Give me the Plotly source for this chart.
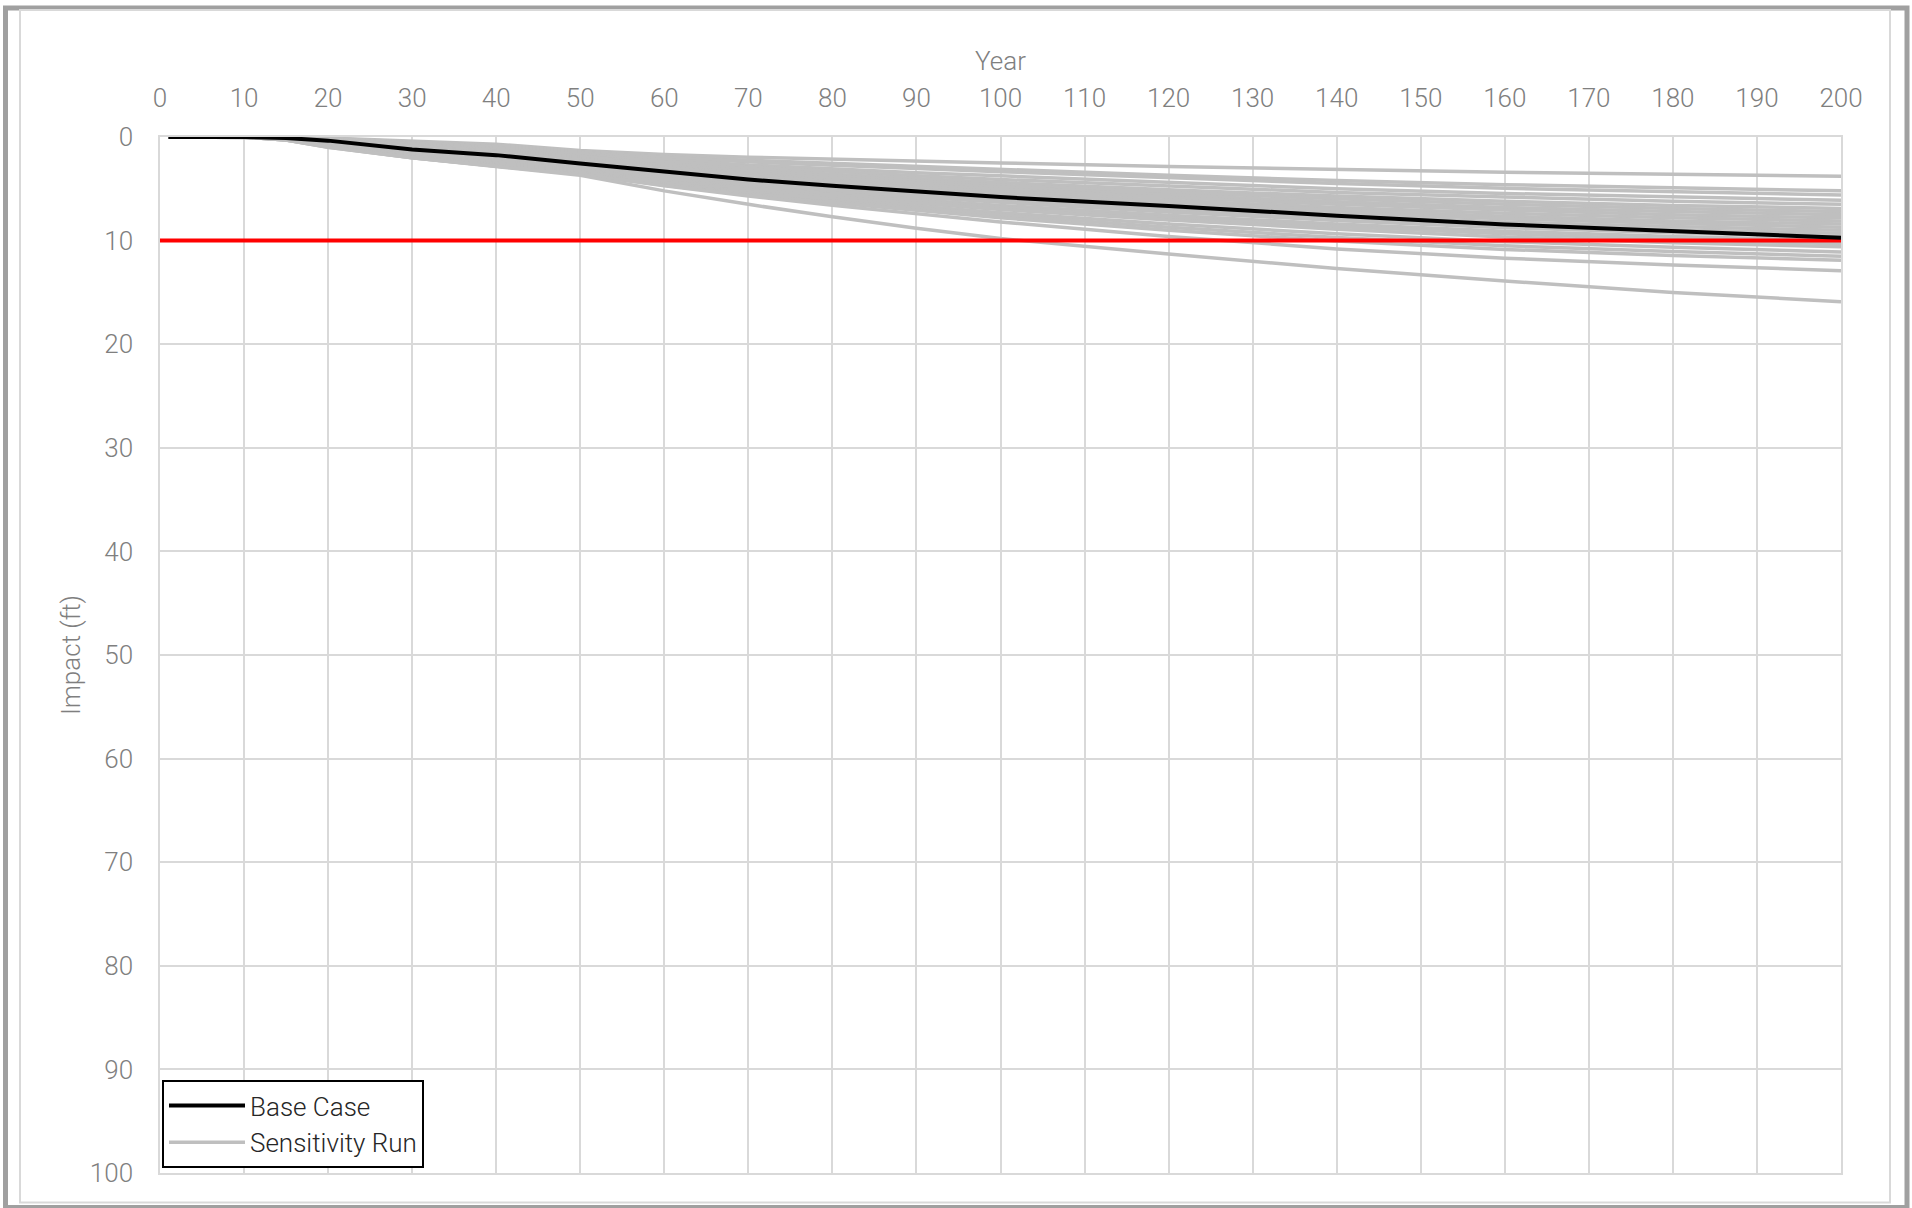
import plotly.graph_objects as go

# ---- data ----
years = [1, 10, 15, 20, 30, 40, 50, 60, 70, 80, 90, 100, 120, 140, 160, 180, 200]

base_case = [0, 0, 0.1, 0.35, 1.2, 1.75, 2.55, 3.35, 4.1, 4.7, 5.25, 5.8, 6.65, 7.6, 8.45, 9.1, 9.72]

sens_01 = [0, 0, 0.05, 0.1, 0.4, 0.7, 1.3, 1.7, 1.95, 2.15, 2.35, 2.5, 2.85, 3.15, 3.4, 3.6, 3.8]
sens_02 = [0, 0, 0.05, 0.15, 0.5, 0.8, 1.4, 1.9, 2.25, 2.55, 2.85, 3.1, 3.7, 4.2, 4.6, 4.9, 5.2]
sens_03 = [0, 0, 0.05, 0.15, 0.55, 0.9, 1.5, 2.0, 2.4, 2.75, 3.05, 3.35, 3.95, 4.5, 4.95, 5.3, 5.6]
sens_04 = [0, 0, 0.05, 0.2, 0.6, 1.0, 1.6, 2.2, 2.7, 3.1, 3.45, 3.75, 4.4, 5.0, 5.45, 5.8, 6.1]
sens_05 = [0, 0, 0.1, 0.2, 0.7, 1.1, 1.7, 2.4, 2.9, 3.35, 3.75, 4.1, 4.75, 5.35, 5.8, 6.2, 6.5]
sens_06 = [0, 0, 0.1, 0.25, 0.8, 1.2, 1.85, 2.6, 3.1, 3.6, 4.0, 4.4, 5.1, 5.7, 6.2, 6.6, 6.9]
sens_07 = [0, 0, 0.1, 0.3, 0.85, 1.3, 2.0, 2.75, 3.3, 3.8, 4.25, 4.65, 5.35, 5.95, 6.5, 6.9, 7.2]
sens_08 = [0, 0, 0.1, 0.3, 0.9, 1.4, 2.1, 2.9, 3.5, 4.0, 4.45, 4.85, 5.6, 6.25, 6.8, 7.2, 7.5]
sens_09 = [0, 0, 0.1, 0.35, 1.0, 1.5, 2.2, 3.0, 3.65, 4.2, 4.65, 5.05, 5.85, 6.5, 7.05, 7.5, 7.8]
sens_10 = [0, 0, 0.1, 0.4, 1.1, 1.6, 2.35, 3.15, 3.8, 4.35, 4.85, 5.3, 6.1, 6.8, 7.35, 7.8, 8.1]
sens_11 = [0, 0, 0.15, 0.45, 1.2, 1.75, 2.5, 3.3, 3.95, 4.55, 5.05, 5.5, 6.3, 7.05, 7.65, 8.1, 8.4]
sens_12 = [0, 0, 0.15, 0.5, 1.3, 1.85, 2.6, 3.45, 4.1, 4.7, 5.25, 5.7, 6.55, 7.3, 7.9, 8.35, 8.7]
sens_13 = [0, 0, 0.15, 0.55, 1.35, 1.95, 2.7, 3.55, 4.25, 4.85, 5.4, 5.9, 6.8, 7.55, 8.2, 8.65, 9.0]
sens_14 = [0, 0, 0.2, 0.6, 1.45, 2.05, 2.85, 3.7, 4.4, 5.05, 5.6, 6.1, 7.0, 7.8, 8.45, 8.95, 9.3]
sens_15 = [0, 0, 0.2, 0.65, 1.5, 2.15, 2.95, 3.85, 4.6, 5.2, 5.8, 6.3, 7.25, 8.05, 8.75, 9.25, 9.6]
sens_16 = [0, 0, 0.2, 0.7, 1.6, 2.3, 3.1, 4.0, 4.8, 5.45, 6.05, 6.6, 7.55, 8.4, 9.1, 9.6, 10.0]
sens_17 = [0, 0, 0.2, 0.75, 1.7, 2.4, 3.2, 4.15, 4.95, 5.6, 6.2, 6.8, 7.8, 8.65, 9.35, 9.9, 10.3]
sens_18 = [0, 0, 0.25, 0.8, 1.75, 2.5, 3.3, 4.3, 5.1, 5.8, 6.4, 7.0, 8.0, 8.9, 9.65, 10.2, 10.6]
sens_19 = [0, 0, 0.25, 0.85, 1.85, 2.6, 3.4, 4.45, 5.3, 6.0, 6.65, 7.3, 8.4, 9.35, 10.1, 10.65, 11.1]
sens_20 = [0, 0, 0.3, 0.9, 1.9, 2.7, 3.5, 4.55, 5.45, 6.2, 6.9, 7.55, 8.7, 9.7, 10.5, 11.05, 11.5]
sens_21 = [0, 0, 0.3, 0.95, 2.0, 2.8, 3.6, 4.65, 5.6, 6.35, 7.1, 7.8, 9.0, 10.05, 10.85, 11.45, 11.9]
sens_22 = [0, 0, 0.3, 1.0, 2.0, 2.8, 3.6, 4.7, 5.7, 6.6, 7.4, 8.2, 9.6, 10.8, 11.7, 12.35, 12.9]
sens_23 = [0, 0, 0.3, 1.0, 2.0, 2.85, 3.7, 5.2, 6.5, 7.7, 8.8, 9.8, 11.3, 12.7, 13.9, 15.0, 15.9]

sensitivity_runs = [sens_01, sens_02, sens_03, sens_04, sens_05, sens_06, sens_07, sens_08,
                    sens_09, sens_10, sens_11, sens_12, sens_13, sens_14, sens_15, sens_16,
                    sens_17, sens_18, sens_19, sens_20, sens_21, sens_22, sens_23]

threshold_years = [0, 200]
threshold_impact = [10, 10]

x_ticks = list(range(0, 201, 10))
y_ticks = list(range(0, 101, 10))

# ---- figure ----
W, H = 1912, 1208
ML, MR, MT, MB = 160, 71, 137, 35
PW, PH = W - ML - MR, H - MT - MB

def px(x):
    return (x - ML) / PW

def py(y):
    return (H - MB - y) / PH

FONT = "Roboto, sans-serif"
GRAY_TXT = "#7f7f7f"
GRID = "#d9d9d9"

fig = go.Figure()

for i, run in enumerate(sensitivity_runs):
    fig.add_trace(go.Scatter(
        x=years, y=run, mode="lines",
        line=dict(color="#bfbfbf", width=3.5),
        name="Sensitivity Run", legendgroup="sens",
        showlegend=(i == 0), legendrank=2, hoverinfo="skip"))

fig.add_trace(go.Scatter(
    x=threshold_years, y=threshold_impact, mode="lines",
    line=dict(color="#ff0000", width=4), showlegend=False, hoverinfo="skip"))

fig.add_trace(go.Scatter(
    x=years, y=base_case, mode="lines",
    line=dict(color="#000000", width=4),
    name="Base Case", legendrank=1))

fig.update_layout(
    width=W, height=H,
    margin=dict(l=ML, r=MR, t=MT, b=MB, autoexpand=False),
    paper_bgcolor="white", plot_bgcolor="white",
    font=dict(family=FONT, color=GRAY_TXT, size=26, weight=300),
    showlegend=True,
    legend=dict(
        x=px(162), y=py(1080), xanchor="left", yanchor="top",
        bgcolor="white", bordercolor="#000000", borderwidth=2,
        font=dict(family=FONT, size=26, color="#262626", weight=300),
        tracegroupgap=0, itemwidth=76,
    ),
    xaxis=dict(
        side="top", range=[0, 200], tickvals=x_ticks,
        showgrid=True, gridcolor=GRID, gridwidth=1.5,
        zeroline=False, showline=True, linecolor=GRID, linewidth=1.5, mirror=True,
        ticks="", ticklabelstandoff=18,
        tickfont=dict(size=26, color=GRAY_TXT, weight=300),
        title=dict(text="Year", font=dict(size=26, color=GRAY_TXT, weight=300), standoff=5),
    ),
    yaxis=dict(
        range=[100, 0], tickvals=y_ticks,
        showgrid=True, gridcolor=GRID, gridwidth=1.5,
        zeroline=False, showline=True, linecolor=GRID, linewidth=1.5, mirror=True,
        ticks="", ticklabelstandoff=20,
        tickfont=dict(size=26, color=GRAY_TXT, weight=300),
        title=dict(text="Impact (ft)", font=dict(size=26, color=GRAY_TXT, weight=300), standoff=2),
    ),
    shapes=[
        dict(type="rect", xref="paper", yref="paper",
             x0=px(5.5), x1=px(1907), y0=py(8), y1=py(1207.5),
             line=dict(color="#a0a0a0", width=5), layer="below"),
        dict(type="rect", xref="paper", yref="paper",
             x0=px(20), x1=px(1890), y0=py(10), y1=py(1202.5),
             line=dict(color=GRID, width=2), layer="below"),
    ],
)

fig.write_html("out.html", config={"displayModeBar": False},
               post_script="document.body.style.margin='0px';")
